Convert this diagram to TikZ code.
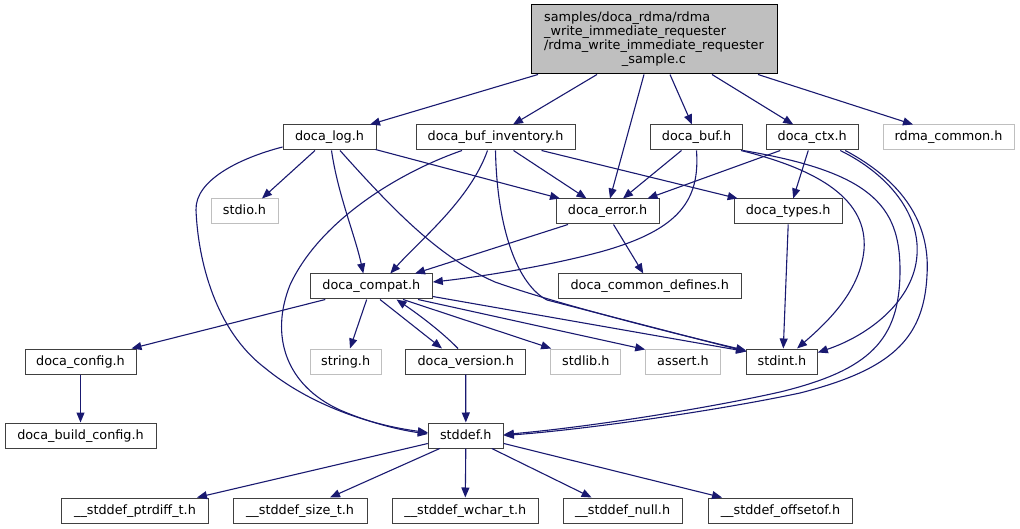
\documentclass[tikz,border=0pt]{standalone}
\usepackage{fontspec}
\setmainfont{DejaVu Sans}
\usetikzlibrary{arrows.meta,calc}
\definecolor{edgec}{HTML}{191970}
\definecolor{boxc}{HTML}{404040}
\definecolor{grayc}{HTML}{BFBFBF}
\newcommand\fsz{\fontsize{12.8}{14}\selectfont}
\tikzset{
  box/.style={draw=boxc, fill=white, line width=1pt, minimum height=25pt, inner xsep=0pt, inner ysep=0pt, text height=10pt, text depth=3pt, font=\fsz},
  gbox/.style={box, draw=grayc},
  edge/.style={draw=edgec, line width=1.1pt, line join=round, -{Triangle[length=10pt,width=8pt]}},
}
\begin{document}
\begin{tikzpicture}[x=1pt,y=-1pt]
\useasboundingbox (0,0) rectangle (1020,529);
% nodes
\node[draw=black, fill=grayc, line width=1pt, minimum width=246pt, minimum height=69pt, inner sep=0pt, font=\fsz] (main) at (654,39.5)
  {\raisebox{-1.5pt}{\begin{tabular}{@{}l@{}}samples/doca\_rdma/rdma\\\_write\_immediate\_requester\\/rdma\_write\_immediate\_requester\\\multicolumn{1}{@{}c@{}}{\_sample.c}\end{tabular}}};
\node[box, minimum width=93pt] (log) at (329.5,137.5) {doca\_log.h};
\node[box, minimum width=159pt] (inv) at (495.5,137.5) {doca\_buf\_inventory.h};
\node[box, minimum width=92pt] (buf) at (696.5,137.5) {doca\_buf.h};
\node[box, minimum width=91.5pt] (ctx) at (812.25,137.5) {doca\_ctx.h};
\node[gbox, minimum width=131pt] (rdma) at (948.5,137.5) {rdma\_common.h};
\node[gbox, minimum width=67pt] (stdio) at (244.5,211.5) {stdio.h};
\node[box, minimum width=103pt] (err) at (607.5,211.5) {doca\_error.h};
\node[box, minimum width=108pt] (types) at (788.2,211.5) {doca\_types.h};
\node[box, minimum width=122pt] (compat) at (371.3,286.5) {doca\_compat.h};
\node[box, minimum width=183.3pt] (defines) at (649.7,286.5) {doca\_common\_defines.h};
\node[box, minimum width=111pt] (config) at (80.5,361.5) {doca\_config.h};
\node[gbox, minimum width=70.7pt] (string) at (345.7,361.5) {string.h};
\node[box, minimum width=120.5pt] (version) at (465.7,361.5) {doca\_version.h};
\node[gbox, minimum width=70.3pt] (stdlib) at (585.8,361.5) {stdlib.h};
\node[gbox, minimum width=74.6pt] (assert) at (683,361.5) {assert.h};
\node[box, minimum width=70.6pt] (stdint) at (782,361.5) {stdint.h};
\node[box, minimum width=151pt] (build) at (80.5,435.5) {doca\_build\_config.h};
\node[box, minimum width=75pt] (stddef) at (465.8,435.5) {stddef.h};
\node[box, minimum width=146.6pt] (ptrdiff) at (135,510.5) {\_\_stddef\_ptrdiff\_t.h};
\node[box, minimum width=134pt] (size) at (300,510.5) {\_\_stddef\_size\_t.h};
\node[box, minimum width=146.2pt] (wchar) at (465.3,510.5) {\_\_stddef\_wchar\_t.h};
\node[box, minimum width=119.2pt] (null) at (622.6,510.5) {\_\_stddef\_null.h};
\node[box, minimum width=144.8pt] (offsetof) at (780.5,510.5) {\_\_stddef\_offsetof.h};
% edges from main
\draw[edge] ($(main.south)+(-116,0)$) -- ($(log.north)+(40.5,0)$);
\draw[edge] ($(main.south)+(-57,0)$) -- ($(inv.north)+(17.5,0)$);
\draw[edge] ($(main.south)+(-10,0)$) -- ($(err.north)+(2.5,0)$);
\draw[edge] ($(main.south)+(16,0)$) -- ($(buf.north)+(-4.5,0)$);
\draw[edge] ($(main.south)+(58,0)$) -- ($(ctx.north)+(-19,0)$);
\draw[edge] ($(main.south)+(104,0)$) -- ($(rdma.north)+(-35.5,0)$);
% doca_log
\draw[edge] ($(log.south)+(-14.5,0)$) -- ($(stdio.north)+(17.5,0)$);
\draw[edge] ($(log.south)+(2,0)$) .. controls (338,195) and (355,235) .. ($(compat.north)+(-8,0)$);
\draw[edge] ($(log.south east)+(-1,-1)$) -- ($(err.north)+(-47.5,0)$);
\draw[edge] ($(log.south)+(10.5,0)$) .. controls (395,212) and (440,258) .. (495,282) .. controls (560,305) and (680,335) .. ($(stdint.north west)+(0,2)$);
\draw[edge] ($(log.west)+(0,9.5)$) .. controls (240,158) and (195,180) .. (196,210) .. controls (198,260) and (215,330) .. (265,368) .. controls (310,405) and (370,425) .. ($(stddef.west)+(0,-3)$);
% doca_buf_inventory
\draw[edge] ($(inv.south)+(-8,0)$) .. controls (470,200) and (420,240) .. ($(compat.north)+(19,0)$);
\draw[edge] ($(inv.south)+(-33.5,0)$) .. controls (400,172) and (320,220) .. (290,285) .. controls (270,335) and (285,385) .. (340,410) .. controls (370,423) and (400,430) .. ($(stddef.west)+(0,-1.5)$);
\draw[edge] (inv.south) .. controls (497,230) and (518,285) .. (547,300) -- ($(stdint.north west)+(0,3)$);
\draw[edge] ($(inv.south)+(18,0)$) -- ($(err.north)+(-21,0)$);
\draw[edge] ($(inv.south)+(46,0)$) -- ($(types.north west)+(4,0)$);
% doca_buf
\draw[edge] ($(buf.south)+(-15,0)$) -- ($(err.north)+(15.5,0)$);
\draw[edge] (buf.south) .. controls (700,200) and (680,230) .. (600,252) .. controls (540,268) and (470,278) .. ($(compat.east)+(0,-4.5)$);
\draw[edge] ($(buf.south east)+(-2,0)$) .. controls (820,170) and (868,200) .. (864,250) .. controls (860,290) and (830,320) .. ($(stdint.north)+(15,0)$);
\draw[edge] (buf.south east) .. controls (870,172) and (900,205) .. (900,270) .. controls (900,340) and (870,370) .. (780,392) .. controls (700,410) and (580,428) .. ($(stddef.east)+(0,-1)$);
% doca_ctx
\draw[edge] ($(ctx.south)+(-32,0)$) -- ($(err.north)+(40,0)$);
\draw[edge] ($(ctx.south)+(-4,0)$) -- ($(types.north)+(5,0)$);
\draw[edge] ($(ctx.south)+(28,0)$) .. controls (890,175) and (920,215) .. (917,255) .. controls (914,300) and (870,335) .. ($(stdint.east)+(0,-9)$);
\draw[edge] ($(ctx.south)+(33,0)$) .. controls (910,185) and (930,230) .. (927,275) .. controls (924,340) and (890,370) .. (800,393) .. controls (710,412) and (580,430) .. (stddef.east);
% doca_error
\draw[edge] ($(err.south)+(-39.5,0)$) -- ($(compat.north)+(43.7,0)$);
\draw[edge] ($(err.south)+(6,0)$) -- ($(defines.north)+(-6.4,0)$);
% doca_types
\draw[edge] (types.south) -- ($(stdint.north)+(1.3,0)$);
% doca_compat
\draw[edge] ($(compat.south)+(-46,0)$) -- ($(config.north)+(51,0)$);
\draw[edge] ($(compat.south)+(-4.6,0)$) -- ($(string.north)+(4.3,0)$);
\draw[edge] ($(compat.south)+(8.7,0)$) -- ($(version.north)+(-23.7,0)$);
\draw[edge] ($(version.north)+(-7.7,0)$) .. controls (440,330) and (415,312) .. ($(compat.south)+(25.2,0)$);
\draw[edge] ($(compat.south)+(31.7,0)$) -- ($(stdlib.north west)+(1,0)$);
\draw[edge] ($(compat.south)+(46.7,0)$) -- ($(assert.north west)+(0,1)$);
\draw[edge] ($(compat.south east)+(0,-3)$) -- ($(stdint.north west)+(0,3)$);
% config, version
\draw[edge] (config.south) -- (build.north);
\draw[edge] (version.south) -- (stddef.north);
% stddef
\draw[edge] ($(stddef.west)+(0,8)$) -- ($(ptrdiff.north)+(62,0)$);
\draw[edge] ($(stddef.south)+(-26,0)$) -- ($(size.north)+(30,0)$);
\draw[edge] (stddef.south) -- (wchar.north);
\draw[edge] ($(stddef.south)+(26,0)$) -- ($(null.north)+(-31,0)$);
\draw[edge] ($(stddef.east)+(0,8)$) -- ($(offsetof.north)+(-58.5,0)$);
\end{tikzpicture}
\end{document}
